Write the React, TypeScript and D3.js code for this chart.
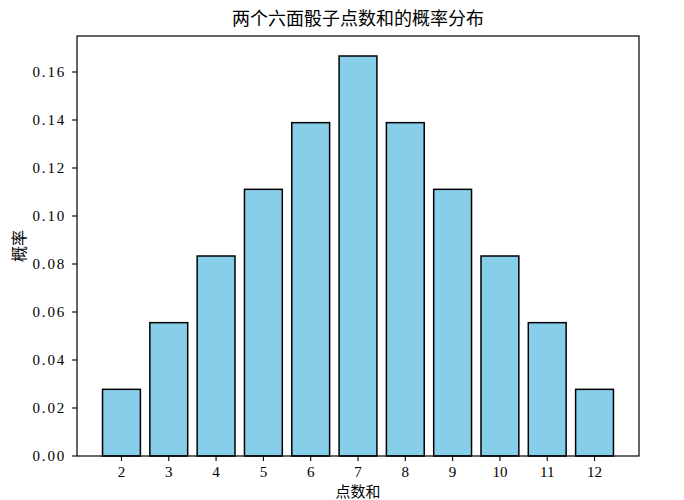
import React from 'react';
import * as d3 from 'd3';

// Sums of two six-sided dice and their probabilities
const sums = [2, 3, 4, 5, 6, 7, 8, 9, 10, 11, 12];
const counts = [1, 2, 3, 4, 5, 6, 5, 4, 3, 2, 1];
const probs = counts.map(c => c / 36);
const yTicks = [0, 0.02, 0.04, 0.06, 0.08, 0.1, 0.12, 0.14, 0.16];

const W = 684;
const H = 500;
const M = { left: 77, right: 45, top: 36, bottom: 44 };

const cjk = '"Noto Sans CJK SC", sans-serif';
const num = '"Liberation Serif", "DejaVu Serif", serif';

export default function App() {
    const x = d3.scaleLinear().domain([1.06, 12.94]).range([M.left, W - M.right]);
    const y = d3.scaleLinear().domain([0, 0.175]).range([H - M.bottom, M.top]);
    const barW = x(0.8) - x(0);

    return (
        <svg width={W} height={H} style={{ position: 'absolute', left: 0, top: 0, background: '#fff' }}>
            {/* bars */}
            {sums.map((s, i) => (
                <rect
                    key={s}
                    x={x(s) - barW / 2}
                    y={y(probs[i])}
                    width={barW}
                    height={y(0) - y(probs[i])}
                    fill="#87CEEB"
                    stroke="#000"
                    strokeWidth={1.5}
                />
            ))}

            {/* frame */}
            <rect
                x={M.left}
                y={M.top}
                width={W - M.left - M.right}
                height={H - M.top - M.bottom}
                fill="none"
                stroke="#000"
                strokeWidth={1.2}
            />

            {/* y axis */}
            {yTicks.map(t => (
                <g key={t} transform={`translate(0,${y(t)})`}>
                    <line x1={M.left - 5} x2={M.left} stroke="#000" strokeWidth={1.1} />
                    <text
                        x={M.left - 11}
                        dy="0.35em"
                        textAnchor="end"
                        fontFamily={num}
                        fontSize={15}
                        letterSpacing={1.8}
                    >
                        {t.toFixed(2)}
                    </text>
                </g>
            ))}

            {/* x axis */}
            {sums.map(s => (
                <g key={s} transform={`translate(${x(s)},${H - M.bottom})`}>
                    <line y1={0} y2={5} stroke="#000" strokeWidth={1.1} />
                    <text y={21} textAnchor="middle" fontFamily={num} fontSize={15}>
                        {s}
                    </text>
                </g>
            ))}

            {/* labels */}
            <text x={(M.left + W - M.right) / 2} y={25} textAnchor="middle" fontFamily={cjk} fontSize={18}>
                两个六面骰子点数和的概率分布
            </text>
            <text
                transform={`translate(25,${(M.top + H - M.bottom) / 2}) rotate(-90)`}
                textAnchor="middle"
                fontFamily={cjk}
                fontSize={16}
            >
                概率
            </text>
            <text x={(M.left + W - M.right) / 2} y={497} textAnchor="middle" fontFamily={cjk} fontSize={15}>
                点数和
            </text>
        </svg>
    );
}
